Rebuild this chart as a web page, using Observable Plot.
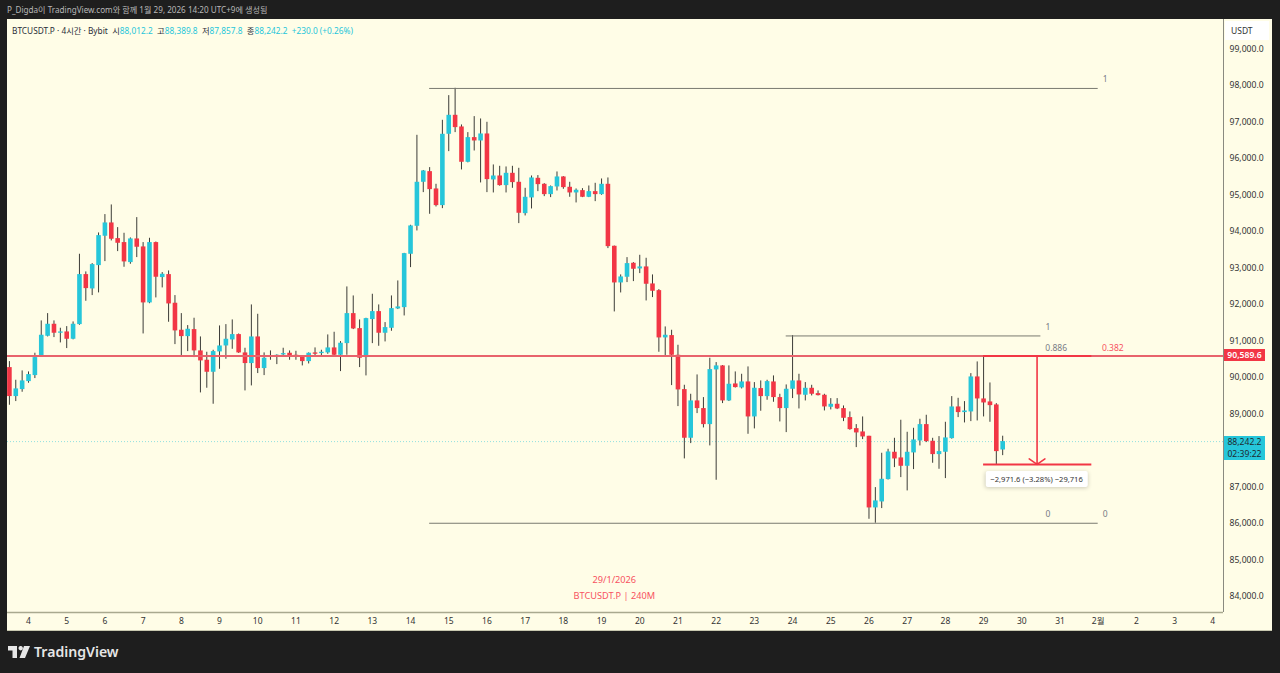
<!DOCTYPE html>
<html>
<head>
<meta charset="utf-8">
<script src="https://cdn.jsdelivr.net/npm/d3@7"></script>
<script src="https://cdn.jsdelivr.net/npm/@observablehq/plot@0.6"></script>
<style>
  html, body { margin: 0; background: #1e1e1e; overflow: hidden; }
  #page { position: relative; width: 1280px; height: 673px; font-family: "Noto Sans", "Noto Sans CJK KR", sans-serif; }
  #panel { position: absolute; left: 7px; top: 19px; width: 1265px; height: 611px; background: #fffde7; border-bottom: 1px solid #c8c8b0; }
  #chart { position: absolute; left: 0; top: 0; }
  .abs { position: absolute; white-space: nowrap; }
  #made { left: 7px; top: 4px; font-size: 8.15px; color: #b8b8b8; }
  #legend { left: 12px; top: 24px; font-size: 8.3px; color: #2a2e39; }
  #legend span { color: #26c6da; }
  #unit { left: 1225px; top: 21px; width: 44px; height: 19px; line-height: 19px; background: #fff; font-size: 8.5px; color: #333; text-indent: 6px; }
  .tag { left: 1224px; width: 41px; text-align: center; font-size: 8.6px; line-height: 12px; }
  #tagRed { background: #f23645; color: #fff; font-weight: 600; }
  #tagCyan { background: #26c6da; color: #1e2a30; }
  #measure { background: #fff; color: #333; font-size: 7.6px; padding: 3px 5px; border-radius: 2px; box-shadow: 0 1px 4px rgba(0,0,0,.2); transform: translate(-50%, -50%); }
  #logo { left: 8px; top: 642px; color: #e6e6e6; font-size: 14.1px; font-weight: 600; display: flex; align-items: center; gap: 4px; }
</style>
</head>
<body>
<div id="page">
  <div id="panel"></div>
  <div class="abs" id="made">P_Digda이 TradingView.com와 함께 1월 29, 2026 14:20 UTC+9에 생성됨</div>
  <div id="chart"></div>
  <div class="abs" id="legend">BTCUSDT.P · 4시간 · Bybit &nbsp;시<span>88,012.2</span> &nbsp;고<span>88,389.8</span> &nbsp;저<span>87,857.8</span> &nbsp;종<span>88,242.2</span> &nbsp;<span>+230.0 (+0.26%)</span></div>
  <div class="abs" id="unit">USDT</div>
  <div class="abs" id="logo"><svg width="22" height="12" viewBox="0 0 22 12"><path fill="#e6e6e6" d="M0 0h9v12H4.5V4.5H0zM10.5 2.2a2.2 2.2 0 1 1 0 .01zM16 0h6l-5 12h-5.5z"/></svg>TradingView</div>
</div>
<script>
// 4시간봉, 1월 4일 00시 봉이 0번 (하루 6개)
const firstBar = -3;
const opens = [
  90270,89476,89667,89886,90051,90581,91128,91457,91211,91247,
  91046,91448,92818,92425,93064,93868,94233,93804,93695,93147,
  93795,93576,92042,93695,92736,92818,92033,91293,91119,91311,
  90727,90471,90142,90699,90863,91028,91174,90672,90380,91110,
  90243,90590,90580,90617,90663,90608,90571,90434,90672,90653,
  90672,90809,90608,90927,91749,91338,90544,91585,91804,91211,
  91347,91877,91913,93374,94141,95347,95639,95164,94708,96662,
  97182,96863,95895,96571,96479,96671,95411,95520,95256,95593,
  95347,94488,94918,95456,95292,95009,95219,95493,95210,95055,
  95119,94936,95091,95009,95292,93594,92589,92745,93128,92973,
  93028,92562,92379,91083,91147,90608,89667,88334,89357,89147,
  88708,90206,90316,89357,89822,89713,89877,88918,89695,89475,
  89877,89448,89147,89676,89904,89512,89703,89557,89512,89183,
  89265,89146,88900,88598,88507,88388,86425,86589,87201,87950,
  87795,87566,87932,88260,88708,88251,87886,87950,88324,89192,
  89037,89055,90014,89411,89329,89247,88012.2
];
const highs = [
  90434,89923,90179,90151,90663,91549,91749,91549,91348,91393,
  91521,93375,92891,93119,93959,94462,94726,94105,93950,93822,
  94379,93695,93813,93710,92873,92918,92243,91749,91421,91622,
  91110,90690,90745,91411,91448,91576,91190,90800,91987,91731,
  90672,90727,90620,90800,90727,90717,90590,90672,90809,90745,
  91165,91238,90982,92480,92233,91576,91621,92279,91987,91503,
  92233,92644,93400,94169,96634,95670,95749,95292,97045,97721,
  97922,96918,96708,97146,97082,96991,95822,95785,95767,95785,
  95730,95182,95520,95530,95310,95246,95630,95502,95347,95164,
  95173,95246,95319,95438,95466,93600,92809,93283,93146,93347,
  93265,92809,92407,91384,91293,90882,89786,89539,90069,89448,
  90526,90407,90325,90316,90151,90087,90288,89859,89905,89923,
  90042,89539,89795,91147,90087,89859,89785,89630,89539,89420,
  89420,89219,89055,88708,88918,88388,86982,87923,88032,88333,
  88827,88498,88607,88854,88964,88333,88379,88772,89475,89429,
  89338,90105,90425,90580,89849,89283,88389.8
];
const lows = [
  89238,89339,89594,89841,89969,90560,91110,91092,90946,90791,
  91030,91430,92087,92243,92316,93174,93740,93448,93019,93101,
  93284,91192,92020,92179,92453,91512,90900,90581,90708,90544,
  89576,89704,89266,90224,90498,90772,90660,89631,89768,90106,
  90051,90471,90352,90562,90471,90471,90316,90370,90562,90599,
  90635,90590,90160,90608,91311,90270,90042,90927,90854,90973,
  91265,91860,91685,93009,94014,95064,94470,94671,94625,96187,
  96708,95685,95880,96205,95329,95064,95055,95240,95055,95182,
  94215,94425,94616,95091,94954,94927,95109,95155,94936,94781,
  94927,94927,94817,94991,93530,91795,92315,92599,92626,92845,
  92096,92188,90690,90580,89777,89201,87768,88188,89010,88617,
  88124,87183,89284,89340,89710,89685,88443,88590,89074,89375,
  89320,88781,88489,89421,89137,89356,89493,89493,89082,89110,
  89119,88790,88553,88078,88297,86114,86005,86407,87190,87530,
  87256,86891,87475,88123,88215,87649,87484,87229,88310,88900,
  88754,88790,88808,88918,88772,87603,87857.8
];
const closes = [
  89476,89686,89905,90078,90544,91156,91457,91211,91247,91046,
  91457,92818,92434,93092,93886,94233,93786,93676,93165,93795,
  93567,92042,93695,92745,92827,92014,91275,91119,91320,90727,
  90453,90142,90708,90863,91046,91174,90672,90380,91110,90243,
  90526,90562,90608,90653,90562,90571,90434,90663,90635,90690,
  90809,90608,90937,91749,91329,90526,91612,91804,91211,91366,
  91886,91932,93393,94151,95347,95657,95146,94708,96662,97182,
  96845,95895,96571,96479,96671,95420,95520,95256,95593,95338,
  94498,94936,95466,95283,95009,95228,95493,95201,95055,95128,
  94936,95091,95009,95292,93584,92589,92754,93119,92964,93028,
  92553,92361,91083,91156,90608,89658,88334,89357,89147,88708,
  90215,90316,89357,89813,89722,89877,88918,89704,89475,89886,
  89448,89147,89676,89905,89521,89703,89539,89502,89192,89265,
  89137,88881,88571,88480,88370,86425,86617,87210,87959,87767,
  87566,87950,88288,88708,88242,87886,87968,88343,89192,89037,
  89082,90014,89411,89301,89228,87968,88242.2
];

const dayLabels = ["4","5","6","7","8","9","10","11","12","13","14","15","16","17","18","19","20","21","22","23","24","25","26","27","28","29","30","31","2월","2","3","4"];
const dayBars = dayLabels.map((d, i) => i * 6);
// 88,000.0 은 현재가 태그에 가려서 안 보임
const priceTicks = [99000,98000,97000,96000,95000,94000,93000,92000,91000,90000,89000,87000,86000,85000,84000];

const keyLevel = 90589.6;
const lastPrice = 88242.2;
const measureLow = 87618;
const fibLines = [
  {x1: 63, x2: 168, y: 97918},
  {x1: 119, x2: 159, y: 91137},
  {x1: 63, x2: 168, y: 86005}
];
const fibLabels = [
  {x: 169.1, y: 98178, t: "1", c: "#787b86"},
  {x: 160.1, y: 91384, t: "1", c: "#787b86"},
  {x: 161.4, y: 90795, t: "0.886", c: "#787b86"},
  {x: 170.3, y: 90795, t: "0.382", c: "#f7525f"},
  {x: 160.1, y: 86260, t: "0", c: "#787b86"},
  {x: 169.1, y: 86260, t: "0", c: "#787b86"}
];
const stamp = [
  {x: 92, y: 84452, t: "29/1/2026"},
  {x: 92, y: 84014, t: "BTCUSDT.P | 240M"}
];

const RED = "#f23645", CYAN = "#26c6da", LINE = "#7a7a70";

const bars = opens.map((o, i) => ({bar: firstBar + i, open: o, high: highs[i], low: lows[i], close: closes[i]}));
const up = bars.filter(d => d.close >= d.open);
const down = bars.filter(d => d.close < d.open);

const chart = Plot.plot({
  width: 1280,
  height: 673,
  marginLeft: 7,
  marginRight: 57,
  marginTop: 19,
  marginBottom: 61,
  style: {background: "transparent", fontFamily: '"Noto Sans", "Noto Sans CJK KR", sans-serif'},
  x: {domain: [-3.3, 187.68], axis: null},
  y: {domain: [83560, 99807], axis: null},
  marks: [
    Plot.axisY({anchor: "right", ticks: priceTicks, tickFormat: d3.format(",.1f"), tickSize: 0, tickPadding: 6, label: null, fontSize: 8.6, color: "#333"}),
    Plot.axisX({ticks: dayBars, tickFormat: (d, i) => dayLabels[i], tickSize: 0, tickPadding: 5, label: null, fontSize: 8.5, color: "#333"}),
    Plot.ruleX([187.68], {stroke: "#8a8a80"}),
    Plot.ruleY([83560], {stroke: "#a9a98f", strokeWidth: 1.5}),
    Plot.ruleY([lastPrice], {stroke: CYAN, strokeOpacity: 0.5, strokeDasharray: "1 2"}),
    Plot.ruleX(bars, {x: "bar", y1: "low", y2: "high", stroke: "#3c3c38", strokeWidth: 1}),
    Plot.ruleX(up, {x: "bar", y1: "open", y2: "close", stroke: CYAN, strokeWidth: 4.6}),
    Plot.ruleX(down, {x: "bar", y1: "open", y2: "close", stroke: RED, strokeWidth: 4.6}),
    Plot.ruleY([keyLevel], {stroke: "#e8636c", strokeWidth: 2}),
    Plot.ruleY(fibLines, {x1: "x1", x2: "x2", y: "y", stroke: LINE, strokeWidth: 1}),
    Plot.ruleY([keyLevel, measureLow], {x1: 150, x2: 167, stroke: RED, strokeWidth: 2}),
    Plot.arrow([{a: 158.4, b: keyLevel, c: measureLow}], {x1: "a", x2: "a", y1: "b", y2: "c", stroke: RED, strokeWidth: 1.6, headAngle: 110, headLength: 9}),
    Plot.text(fibLabels, {x: "x", y: "y", text: "t", fill: "c", fontSize: 8.5}),
    Plot.text(stamp, {x: "x", y: "y", text: "t", fill: "#f7525f", fontSize: 9.2})
  ]
});
document.getElementById("chart").append(chart);

// 가격 태그는 y 스케일 위치에 맞춤
const page = document.getElementById("page");
const yPx = chart.scale("y"), xPx = chart.scale("x");
function addLabel(id, cls, html, left, top) {
  const el = document.createElement("div");
  el.id = id;
  el.className = cls;
  el.innerHTML = html;
  if (left != null) el.style.left = left + "px";
  el.style.top = top + "px";
  page.append(el);
}
addLabel("tagRed", "abs tag", "90,589.6", null, yPx.apply(keyLevel) - 6);
addLabel("tagCyan", "abs tag", "88,242.2<br>02:39:22", null, yPx.apply(lastPrice) - 5);
addLabel("measure", "abs", "−2,971.6 (−3.28%) −29,716", xPx.apply(158.4), yPx.apply(measureLow) + 15);
</script>
</body>
</html>
